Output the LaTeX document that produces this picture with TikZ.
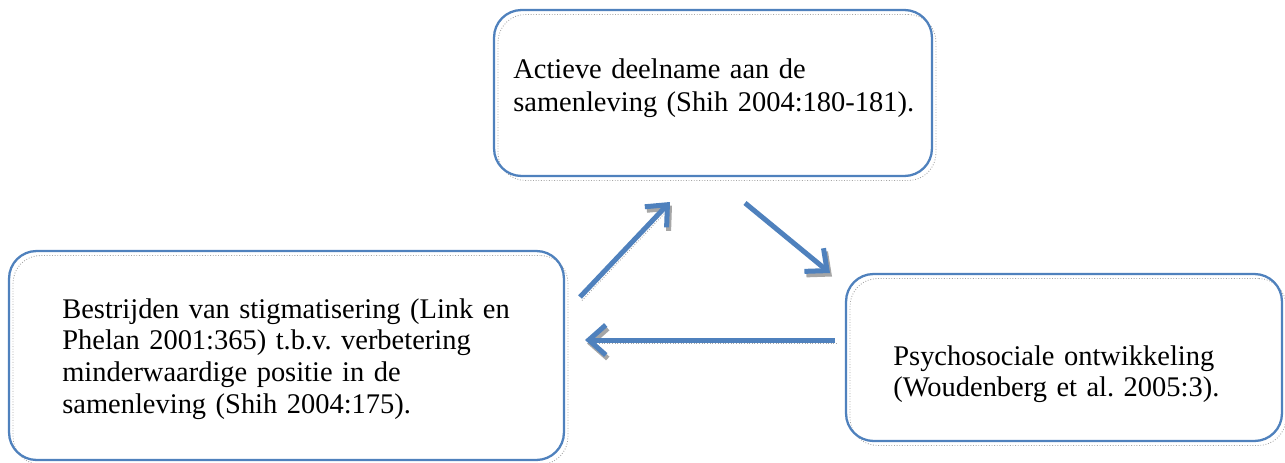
\documentclass[tikz,border=0pt]{standalone}
\usepackage{fontspec}
\setmainfont{Liberation Serif}
\usetikzlibrary{arrows.meta,positioning}
\definecolor{boxblue}{HTML}{4F81BD}
\begin{document}
\frenchspacing
\begin{tikzpicture}[x=0.02cm, y=-0.02cm]
\fontsize{16.2}{18.2}\selectfont
\tikzset{
    box/.style={draw=boxblue, line width=1.3pt, rounded corners=0.55cm, inner sep=0pt,
        preaction={draw=black!35, line width=0.5pt, densely dotted, transform canvas={shift={(0.08cm,-0.09cm)}}}},
    txt/.style={anchor=base west, inner sep=0pt, text width=11cm, align=left},
    arr/.style={draw=boxblue, line width=0.1cm, -{Straight Barb[length=0.34cm, width=0.6cm, line width=0.1cm]},
        preaction={draw=black!35, line width=0.5pt, densely dotted, transform canvas={shift={(0.04cm,-0.07cm)}}}},
}
\useasboundingbox (0,0) rectangle (1285,463);

% The three boxes.
\node[box, minimum width=8.76cm, minimum height=3.32cm] (act)  at (713,93)      {}; % top
\node[box, minimum width=11.1cm, minimum height=4.18cm] (stig) at (286.5,355.5) {}; % left
\node[box, minimum width=8.72cm, minimum height=3.34cm] (psy)  at (1064,357.5)  {}; % right

% Texts, placed at the baseline of their first line.
\node[txt, font=\fontsize{16.2}{19.3}\selectfont] (acttxt) at (513,78) {Actieve deelname aan de\\samenleving (Shih 2004:180-181).};
\node[txt] (stigtxt) at (62,318) {Bestrijden van stigmatisering (Link en\\Phelan 2001:365) t.b.v. verbetering\\minderwaardige positie in de\\samenleving (Shih 2004:175).};
\node[txt] (psytxt) at (893,365) {Psychosociale ontwikkeling\\(Woudenberg et al. 2005:3).};

% End points of the arrows, in the gaps between the boxes.
\coordinate (stigout) at (580,297);
\coordinate (actin)   at (670,202);
\coordinate (actout)  at (745,203);
\coordinate (psyin)   at (830,273);
\coordinate (psyout)  at (835,340);
\coordinate (stigin)  at (585,340);

\draw[arr] (stigout) -- (actin);
\draw[arr] (actout) -- (psyin);
\draw[arr] (psyout) -- (stigin);
\end{tikzpicture}
\end{document}
